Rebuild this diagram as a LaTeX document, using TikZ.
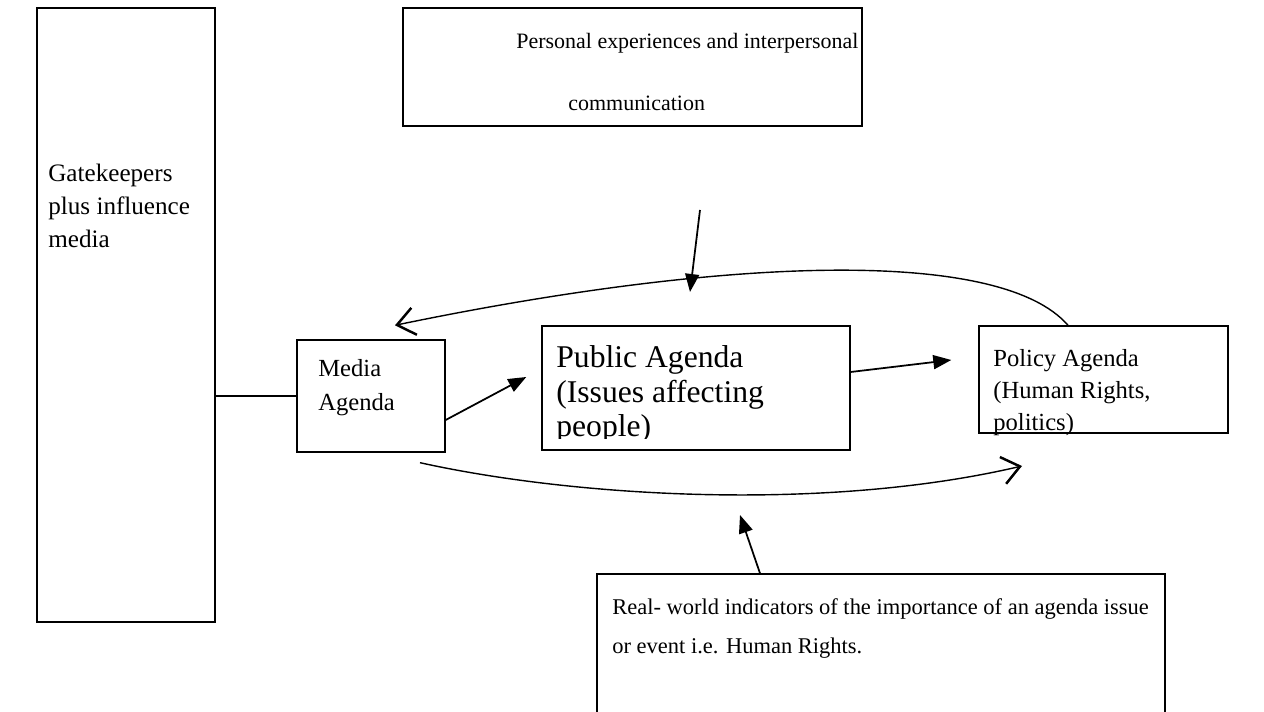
\documentclass[tikz,border=0pt]{standalone}
\usepackage{fontspec}
\setmainfont{Liberation Serif}
\usetikzlibrary{arrows.meta,calc}

\tikzset{
  box/.style={draw, line width=0.8pt, inner sep=0pt},
  txt/.style={anchor=north west, inner sep=0pt, align=left, font=\fontsize{14pt}{18.7pt}\selectfont},
  arr/.style={line width=1pt, -{Triangle[length=3.6mm,width=2.8mm]}},
  barb/.style={line width=0.8pt, -{Straight Barb[length=3.5mm,width=5.5mm,line width=1.4pt]}},
}

\begin{document}
\begin{tikzpicture}
    \useasboundingbox (0,0) rectangle (25.28,14.24);
    \clip (0,0) rectangle (25.28,14.24);

    % Boxes
    \node[box, minimum width=3.56cm, minimum height=12.28cm] (gate) at (2.52,7.94) {};
    \node[box, minimum width=9.18cm, minimum height=2.36cm] (pers) at (12.65,12.90) {};
    \node[box, minimum width=2.96cm, minimum height=2.24cm] (media) at (7.42,6.32) {};
    \node[box, minimum width=6.16cm, minimum height=2.48cm] (public) at (13.92,6.48) {};
    \node[box, minimum width=4.98cm, minimum height=2.14cm] (policy) at (22.07,6.65) {};
    \node[box, minimum width=11.36cm, minimum height=2.92cm] (real) at (17.62,1.30) {};

    % Texts
    \node[txt, font=\fontsize{14.3pt}{18.7pt}\selectfont] (gatetxt) at (0.96,10.96) {Gatekeepers\\plus influence\\media};
    \node[txt, font=\fontsize{12.5pt}{15pt}\selectfont] (perstxt) at (10.32,13.58) {Personal experiences and interpersonal};
    \node[txt, font=\fontsize{12.5pt}{15pt}\selectfont] (commtxt) at (11.36,12.32) {communication};
    \node[txt, font=\fontsize{14pt}{19.3pt}\selectfont] (mediatxt) at (6.36,7.06) {Media\\Agenda};
    \begin{scope}
        \clip ([yshift=0.24cm]public.south west) rectangle (public.north east);
        \node[txt, font=\fontsize{18pt}{19.8pt}\selectfont] (publictxt) at (11.12,7.34) {Public Agenda\\(Issues affecting\\people)};
    \end{scope}
    \node[txt, font=\fontsize{14pt}{18.1pt}\selectfont] (policytxt) at (19.86,7.26) {Policy Agenda\\(Human Rights,\\politics)};
    \node[txt, font=\fontsize{12.8pt}{22.1pt}\selectfont] (realtxt) at (12.24,2.28) {Real- world indicators of the importance of an agenda issue\\or event i.e. Human Rights.};

    % Links
    \draw[line width=0.8pt] (media.west -| gate.east) -- (media.west);
    \coordinate (mp) at ([xshift=-0.30cm,yshift=0.22cm]public.west);
    \draw[arr] ([yshift=-0.48cm]media.east) -- (mp);
    \coordinate (pp) at ([xshift=-0.54cm,yshift=0.39cm]policy.west);
    \draw[arr] ([yshift=0.32cm]public.east) -- (pp);

    % Feedback curves
    \coordinate (fb) at ([xshift=0.48cm,yshift=0.28cm]media.north);
    \draw[barb] ([xshift=-0.71cm]policy.north) .. controls (20.0,9.3) and (14.5,9.1) .. (fb);
    \coordinate (fs) at ([xshift=0.98cm,yshift=-0.20cm]media.south);
    \coordinate (ff) at (20.44,4.92);
    \draw[barb] (fs) .. controls (11.5,4.3) and (16.5,4.0) .. (ff);

    % Outside influences
    \coordinate (pd1) at (14.00,10.04);
    \coordinate (pd2) at (13.80,8.40);
    \draw[arr] (pd1) -- (pd2);
    \coordinate (ru) at (14.80,3.94);
    \draw[arr] ([xshift=-2.42cm]real.north) -- (ru);
\end{tikzpicture}
\end{document}
